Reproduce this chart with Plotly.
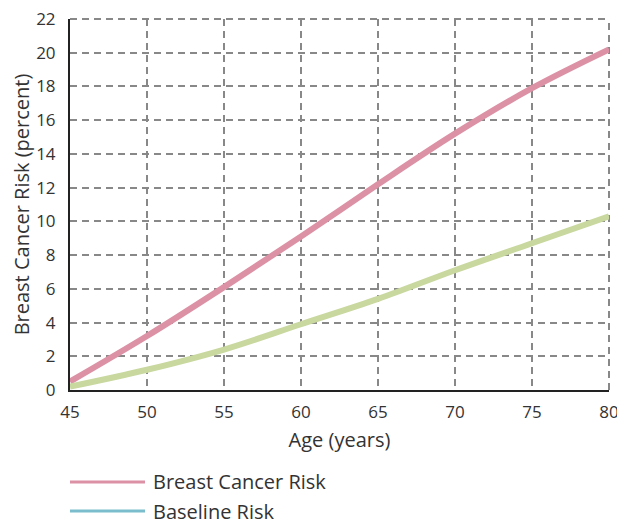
import plotly.graph_objects as go

ages = [45, 50, 55, 60, 65, 70, 75, 80]
breast_cancer_risk = [0.5, 3.2, 6.1, 9.1, 12.2, 15.2, 17.9, 20.2]
baseline_risk = [0.2, 1.2, 2.4, 3.9, 5.4, 7.1, 8.7, 10.3]
x_ticks = [45, 50, 55, 60, 65, 70, 75, 80]
y_ticks = list(range(0, 23, 2))
legend_labels = ["Breast Cancer Risk", "Baseline Risk"]

PINK = "#dc91a5"
GREEN = "#c8d89f"
TEAL = "#7bbdcc"
TXT = "#333333"
GRID = "#888888"
FONT = "Open Sans"
FS_TICK = 17
FS_TXT = 20

# page body has an 8px margin; compensate so the figure lands at the same pixels
W, H = 617, 513
ML, MR, MT, MB = 62, 16, 11, 131
plot_w = W - ML - MR
plot_h = H - MT - MB

fig = go.Figure()
fig.add_trace(go.Scatter(x=ages, y=breast_cancer_risk, mode="lines",
                         line=dict(color=PINK, width=6, shape="spline"),
                         name=legend_labels[0], showlegend=False))
fig.add_trace(go.Scatter(x=ages, y=baseline_risk, mode="lines",
                         line=dict(color=GREEN, width=6, shape="spline"),
                         name=legend_labels[1], showlegend=False))

# dashed grid lines on the top and right edges (plotly drops edge gridlines)
fig.add_shape(type="line", xref="paper", yref="paper", x0=0, x1=1, y0=1, y1=1,
              line=dict(color=GRID, width=2, dash="7px,5px"), layer="below")
fig.add_shape(type="line", xref="paper", yref="paper", x0=1, x1=1, y0=0, y1=1,
              line=dict(color=GRID, width=2, dash="7px,5px"), layer="below")

# legend drawn below plot (offsets in px below plot bottom)
leg_colors = [PINK, TEAL]
leg_dy = [92, 121]
for lab, col, dy in zip(legend_labels, leg_colors, leg_dy):
    yp = -dy / plot_h
    fig.add_shape(type="line", xref="paper", yref="paper",
                  x0=0.0, x1=75 / plot_w, y0=yp, y1=yp,
                  line=dict(color=col, width=3))
    fig.add_annotation(xref="paper", yref="paper", x=81 / plot_w, y=yp,
                       text=lab, showarrow=False, xanchor="left", yanchor="middle",
                       font=dict(family=FONT, size=FS_TXT, color=TXT))

fig.update_layout(
    width=W, height=H,
    margin=dict(l=ML, r=MR, t=MT, b=MB),
    paper_bgcolor="white", plot_bgcolor="white",
    font=dict(family=FONT, size=FS_TICK, color=TXT),
    showlegend=False,
)
fig.update_xaxes(range=[45, 80], tickvals=x_ticks, ticktext=[str(v) for v in x_ticks],
                 showgrid=True, gridcolor=GRID, gridwidth=2, griddash="7px,5px",
                 showline=True, linecolor="#222222", linewidth=2, zeroline=False,
                 ticks="", ticklabelstandoff=6, automargin=False, ticklabeloverflow="allow",
                 title=dict(text="Age (years)", standoff=11, font=dict(size=FS_TXT)))
fig.update_yaxes(range=[0, 22], tickvals=y_ticks,
                 showgrid=True, gridcolor=GRID, gridwidth=2, griddash="7px,5px",
                 showline=True, linecolor="#222222", linewidth=2, zeroline=False,
                 ticks="", ticklabelstandoff=9, automargin=False, ticklabeloverflow="allow",
                 title=dict(text="Breast Cancer Risk (percent)", standoff=7, font=dict(size=FS_TXT)))

fig.write_html("out.html")
